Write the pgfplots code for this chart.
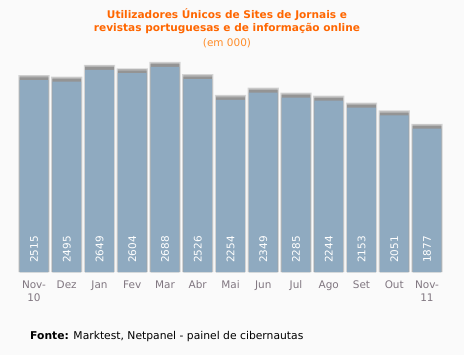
\documentclass[border=0pt]{standalone}
\usepackage{pgfplots}
\pgfplotsset{compat=1.18}
\usepackage{fontspec}
\setmainfont{DejaVu Sans}
\usetikzlibrary{backgrounds}
\definecolor{barblue}{RGB}{143,170,192}
\definecolor{capgray}{RGB}{148,148,148}
\definecolor{caplight}{RGB}{180,180,180}
\definecolor{edgegray}{RGB}{212,212,212}
\definecolor{bg}{RGB}{250,250,250}
\definecolor{titleorange}{RGB}{255,102,0}
\definecolor{subor}{RGB}{255,140,40}
\definecolor{ticktext}{RGB}{128,118,128}
\begin{document}
\begin{tikzpicture}
\begin{axis}[name=ax, scale only axis,
  width=425.75bp, height=229bp, xmin=-0.5, xmax=12.5, ymin=0, ymax=3000,
  axis line style={draw=none}, ytick=\empty, xtick=data, major tick length=0,
  xticklabels={{Nov-\\10},Dez,Jan,Fev,Mar,Abr,Mai,Jun,Jul,Ago,Set,Out,{Nov-\\11}},
  xticklabel style={align=center, font=\fontsize{10.5}{13}\selectfont, text=ticktext, yshift=-5.5bp},
  clip=false]
\addplot[ybar, bar shift=0pt, bar width=0.95, fill=edgegray, draw=none] coordinates {
(0,2580) (1,2560) (2,2714) (3,2669) (4,2753) (5,2591) (6,2319) (7,2414) (8,2350) (9,2309) (10,2218) (11,2116) (12,1942)};
\addplot[ybar, bar shift=0pt, bar width=0.88, fill=caplight, draw=none] coordinates {
(0,2568) (1,2548) (2,2702) (3,2657) (4,2741) (5,2579) (6,2307) (7,2402) (8,2338) (9,2297) (10,2206) (11,2104) (12,1930)};
\addplot[ybar, bar shift=0pt, bar width=0.88, fill=capgray, draw=none] coordinates {
(0,2550) (1,2530) (2,2684) (3,2639) (4,2723) (5,2561) (6,2289) (7,2384) (8,2320) (9,2279) (10,2188) (11,2086) (12,1912)};
\addplot[ybar, bar shift=0pt, bar width=0.88, fill=barblue, draw=none] coordinates {
(0,2515) (1,2495) (2,2649) (3,2604) (4,2688) (5,2526) (6,2254) (7,2349) (8,2285) (9,2244) (10,2153) (11,2051) (12,1877)};
\addplot[draw=none, mark=none, nodes near coords, point meta=explicit symbolic,
  nodes near coords style={font=\fontsize{10.5}{12}\selectfont, text=white, rotate=90, anchor=west, inner sep=0pt, xshift=9bp}] coordinates {
(0,0)[2515] (1,0)[2495] (2,0)[2649] (3,0)[2604] (4,0)[2688] (5,0)[2526] (6,0)[2254] (7,0)[2349] (8,0)[2285] (9,0)[2244] (10,0)[2153] (11,0)[2051] (12,0)[1877]};
\end{axis}
\begin{scope}[shift={(ax.south west)}, x=1bp, y=1bp]
\begin{scope}[on background layer]
\fill[bg] (-17.6,-83) rectangle (446.4,272);
\end{scope}
\node[font=\bfseries\fontsize{10.6}{12}\selectfont, text=titleorange] at (209.4,257) {Utilizadores Únicos de Sites de Jornais e};
\node[font=\bfseries\fontsize{10.6}{12}\selectfont, text=titleorange] at (209.4,243) {revistas portuguesas e de informação online};
\node[font=\fontsize{10.5}{12}\selectfont, text=subor] at (209.4,229) {(em 000)};
\node[font=\fontsize{10.8}{12}\selectfont, anchor=west, inner sep=0] at (12.4,-65) {\textbf{Fonte:} Marktest, Netpanel - painel de cibernautas};
\pgfresetboundingbox
\useasboundingbox (-17.6,-83) rectangle (446.4,272);
\end{scope}
\end{tikzpicture}
\end{document}
